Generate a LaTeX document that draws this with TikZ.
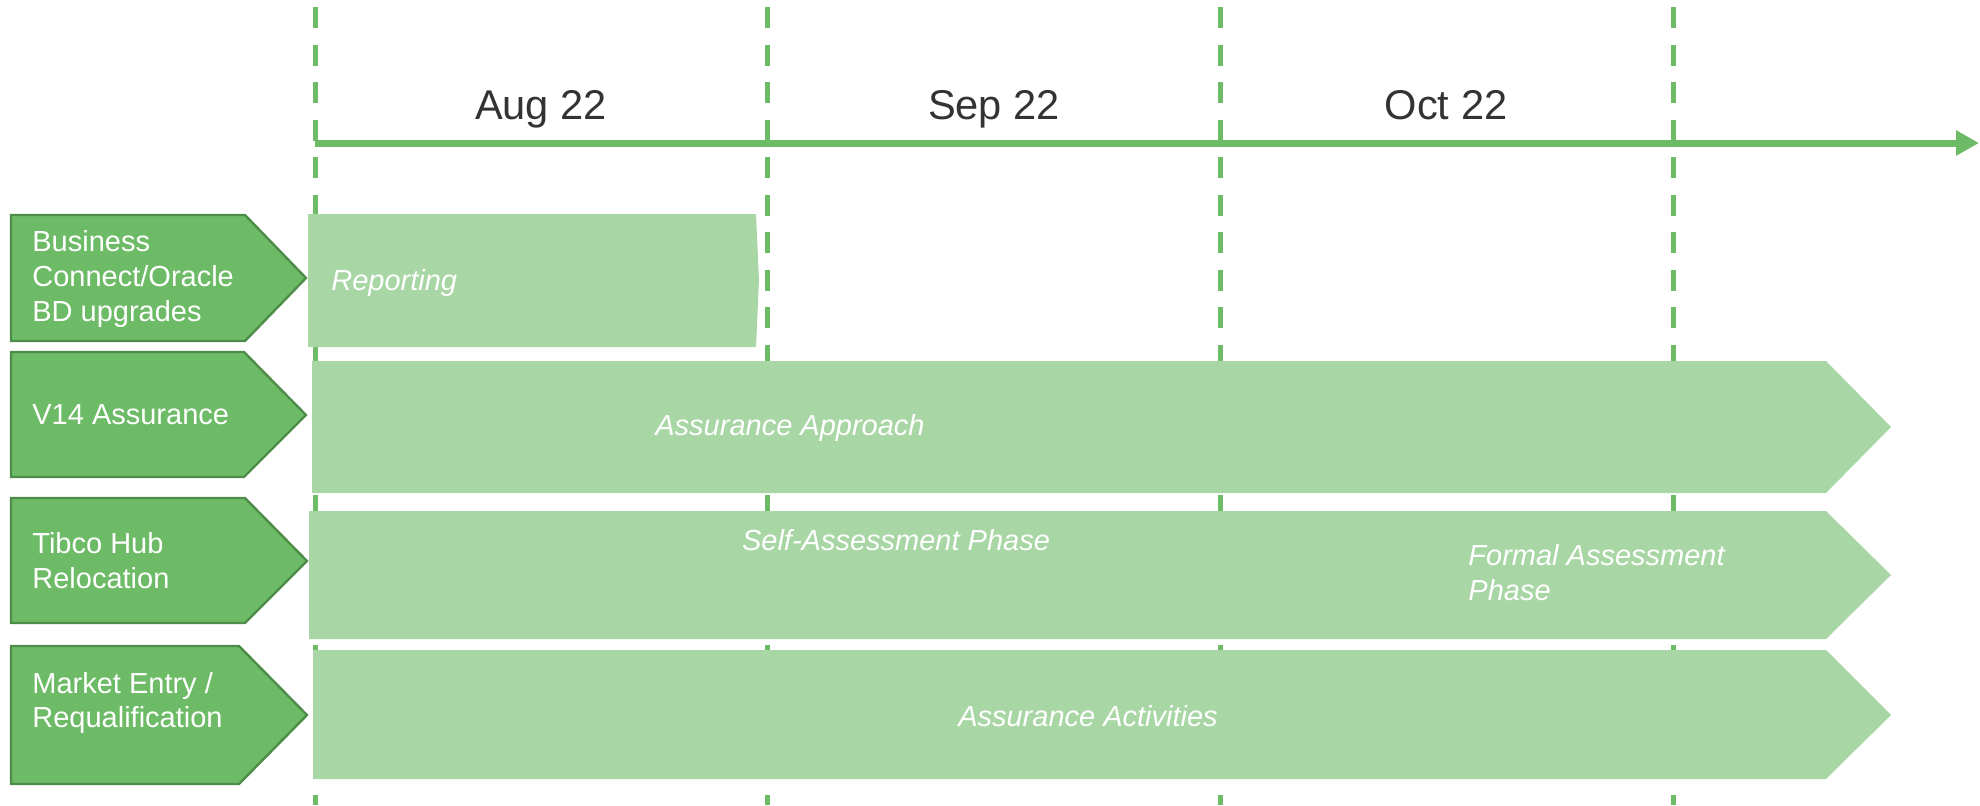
\documentclass[tikz,border=0pt]{standalone}
\usepackage{fontspec}
\setmainfont{Liberation Sans}
\usetikzlibrary{arrows.meta}
\definecolor{rowgreen}{HTML}{6DBB66}
\definecolor{rowedge}{HTML}{4E8D49}
\definecolor{barlight}{HTML}{A9D6A5}
\definecolor{monthgray}{HTML}{333333}

\begin{document}
\begin{tikzpicture}[
    x=0.5pt,y=-0.5pt,
    rowlabel/.style={fill=rowgreen,draw=rowedge,line width=1.2pt},
    bar/.style={fill=barlight},
    rowtext/.style={anchor=west,align=left,text=white,inner sep=0pt,font=\fontsize{14.5}{17.4}\selectfont},
    bartext/.style={text=white,inner sep=0pt,font=\fontsize{14.5}{17.4}\selectfont\itshape},
    month/.style={anchor=base,text=monthgray,font=\fontsize{20.8}{25}\selectfont},
    monthline/.style={rowgreen,line width=2.5pt,dash pattern=on 10.5pt off 8.25pt,dash phase=15.25pt}
]
    \useasboundingbox (0,0) rectangle (1980,805);

    % Month separators
    \foreach \x in {315,767,1220,1673}
        \draw[monthline] (\x,0) -- (\x,805);

    % Time axis
    \coordinate (t0) at (315,143);
    \coordinate (t1) at (1979,143);
    \draw[rowgreen,line width=3.5pt,-{Triangle[length=11.5pt,width=12pt]}] (t0) -- (t1);

    \node[month] (aug) at (541,119) {Aug 22};
    \node[month] (sep) at (994,119) {Sep 22};
    \node[month] (oct) at (1446,119) {Oct 22};

    % Workstream labels
    \draw[rowlabel] (11,215) -- (245,215) -- (306,278) -- (245,341) -- (11,341) -- cycle;
    \draw[rowlabel] (11,352) -- (244,352) -- (306,415) -- (244,477) -- (11,477) -- cycle;
    \draw[rowlabel] (11,498) -- (245,498) -- (307,561) -- (245,623) -- (11,623) -- cycle;
    \draw[rowlabel] (11,646) -- (239,646) -- (307,715) -- (239,784) -- (11,784) -- cycle;

    \node[rowtext] (busi) at (32,279) {Business\\Connect/Oracle\\BD upgrades};
    \node[rowtext] (v14) at (32,415) {V14 Assurance};
    \node[rowtext] (tibco) at (32,561) {Tibco Hub\\Relocation};
    \node[rowtext] (market) at (32,703) {Market Entry /\\Requalification};

    % Activity bars
    \fill[bar] (308,214) -- (756,214) -- (759,280) -- (756,347) -- (308,347) -- cycle;
    \fill[bar] (312,361) -- (1826,361) -- (1891,427) -- (1826,493) -- (312,493) -- cycle;
    \fill[bar] (309,511) -- (1826,511) -- (1891,575) -- (1826,639) -- (309,639) -- cycle;
    \fill[bar] (313,650) -- (1826,650) -- (1891,715) -- (1826,779) -- (313,779) -- cycle;

    \node[bartext,anchor=west] (report) at (331,283) {Reporting};
    \node[bartext] (approach) at (790,428) {Assurance Approach};
    \node[bartext] (self) at (896,540) {Self-Assessment Phase};
    \node[bartext,anchor=west,align=left] (formal) at (1468,573) {Formal Assessment\\Phase};
    \node[bartext] (activ) at (1088,716) {Assurance Activities};
\end{tikzpicture}
\end{document}
